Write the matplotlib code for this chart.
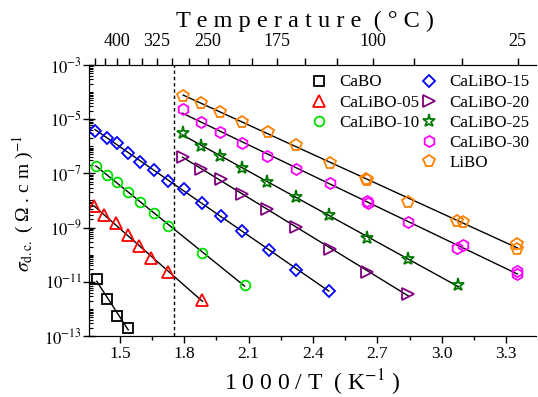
import numpy as np
import matplotlib
matplotlib.use("Agg")
import matplotlib.pyplot as plt
from matplotlib.ticker import FixedLocator, FixedFormatter, LogLocator, NullFormatter, MultipleLocator
from matplotlib.lines import Line2D

plt.rcParams['font.family'] = ['Liberation Serif', 'DejaVu Serif']
plt.rcParams['mathtext.fontset'] = 'stix'

# 1000/T (K^-1) and log10 of sigma_dc (S/cm) for each glass
x_cabo = [1.392, 1.441, 1.488, 1.539]
y_cabo = [-10.90, -11.65, -12.25, -12.69]

x_05 = [1.380, 1.427, 1.481, 1.536, 1.590, 1.647, 1.722, 1.885]
y_05 = [-8.20, -8.55, -8.84, -9.27, -9.68, -10.13, -10.63, -11.67]

x_10 = [1.388, 1.438, 1.488, 1.539, 1.593, 1.660, 1.725, 1.885, 2.081]
y_10 = [-6.72, -7.06, -7.31, -7.68, -8.07, -8.45, -8.93, -9.93, -11.12]

x_15 = [1.384, 1.438, 1.488, 1.539, 1.593, 1.660, 1.725, 1.798, 1.885, 1.970,
        2.067, 2.195, 2.322, 2.473]
y_15 = [-5.44, -5.68, -5.89, -6.24, -6.57, -6.87, -7.28, -7.59, -8.08, -8.57,
        -9.13, -9.83, -10.56, -11.33]

x_20 = [1.792, 1.880, 1.970, 2.071, 2.187, 2.322, 2.477, 2.651, 2.844]
y_20 = [-6.41, -6.84, -7.22, -7.77, -8.31, -8.97, -9.79, -10.63, -11.46]

x_25 = [1.792, 1.880, 1.967, 2.071, 2.187, 2.319, 2.474, 2.652, 2.841, 3.078]
y_25 = [-5.52, -5.98, -6.36, -6.81, -7.31, -7.88, -8.54, -9.39, -10.17, -11.12]

x_30 = [1.792, 1.879, 1.967, 2.069, 2.187, 2.322, 2.477, 2.651, 2.655, 2.843,
        3.073, 3.098, 3.352, 3.352]
y_30 = [-4.62, -5.11, -5.48, -5.87, -6.35, -6.85, -7.35, -8.03, -8.11, -8.78,
        -9.77, -9.66, -10.61, -10.73]

x_libo = [1.795, 1.879, 1.967, 2.071, 2.190, 2.319, 2.477, 2.645, 2.650, 2.841,
          3.071, 3.097, 3.353, 3.353]
y_libo = [-4.13, -4.41, -4.72, -5.11, -5.48, -5.95, -6.60, -7.19, -7.25, -8.04,
          -8.75, -8.81, -9.61, -9.80]

names = ['CaBO', 'CaLiBO-05', 'CaLiBO-10', 'CaLiBO-15',
         'CaLiBO-20', 'CaLiBO-25', 'CaLiBO-30', 'LiBO']
xs = [x_cabo, x_05, x_10, x_15, x_20, x_25, x_30, x_libo]
ys = [y_cabo, y_05, y_10, y_15, y_20, y_25, y_30, y_libo]
colors = ['black', 'red', '#00e000', 'blue', '#800080', '#007a00', '#ff00ff', '#ff8000']
markers = ['s', '^', 'o', 'D', '>', '*', 'h', 'p']
sizes = [6.5, 8, 7, 6.5, 8, 9.5, 8, 8.5]

# top axis: temperature in Celsius
temp_labels = [400, 325, 250, 175, 100, 25]
temp_minor = [450, 425, 375, 350, 300, 275, 225, 200, 150, 125, 75, 50]

fig = plt.figure(figsize=(5.38, 3.97), dpi=100)
ax = fig.add_axes([0.1654, 0.1537, 0.8311, 0.6826])

handles = []
for x, y, c, m, s, n in zip(xs, ys, colors, markers, sizes, names):
    x = np.array(x)
    y = np.array(y)
    # Arrhenius fit
    k, b = np.polyfit(x, y, 1)
    xf = np.array([x.min(), x.max()])
    ax.plot(xf, 10 ** (k * xf + b), color='black', lw=1.0, zorder=2)
    ax.plot(x, 10 ** y, ls='none', marker=m, ms=s, mfc='none', mec=c, mew=1.3, zorder=3)
    handles.append(Line2D([], [], ls='none', marker=m, ms=s, mfc='none', mec=c, mew=1.3, label=n))

ax.axvline(1.75, color='black', lw=1.0, ls=(0, (2.5, 2)), zorder=1)

ax.set_yscale('log')
ax.set_xlim(1.356, 3.44)
ax.set_ylim(1e-13, 1e-3)

ax.xaxis.set_major_locator(FixedLocator([1.5, 1.8, 2.1, 2.4, 2.7, 3.0, 3.3]))
ax.xaxis.set_minor_locator(MultipleLocator(0.15))
ax.xaxis.set_major_formatter(FixedFormatter(['1.5', '1.8', '2.1', '2.4', '2.7', '3.0', '3.3']))

ydec = [-13, -11, -9, -7, -5, -3]
ax.yaxis.set_major_locator(FixedLocator([10.0 ** d for d in ydec]))
ax.yaxis.set_major_formatter(FixedFormatter(['$10^{%d}$' % d for d in ydec]))
ax.yaxis.set_minor_locator(LogLocator(base=10, subs=np.arange(1, 10), numticks=100))
ax.yaxis.set_minor_formatter(NullFormatter())

ax.tick_params(axis='x', which='major', direction='out', length=5, width=1, labelsize=12.5, pad=2)
ax.tick_params(axis='x', which='minor', direction='out', length=3, width=1)
ax.tick_params(axis='y', which='major', direction='inout', length=8, width=1, labelsize=12, pad=1)
ax.tick_params(axis='y', which='minor', direction='in', length=3, width=0.8)
ax.spines['right'].set_visible(False)

ax.set_xlabel('1 0 0 0 / T  ( K$^{-1}$ )', fontsize=17, labelpad=4)
ax.set_ylabel(r'$\sigma_{\rm d.c.}$ ( Ω . c m )$^{-1}$', fontsize=14, labelpad=6)
ax.yaxis.label.set_y(0.49)

top = ax.twiny()
top.set_xlim(ax.get_xlim())
top.xaxis.set_major_locator(FixedLocator([1000.0 / (t + 273.15) for t in temp_labels]))
top.xaxis.set_major_formatter(FixedFormatter([str(t) for t in temp_labels]))
top.xaxis.set_minor_locator(FixedLocator([1000.0 / (t + 273.15) for t in temp_minor]))
top.tick_params(axis='x', which='major', direction='out', length=5, width=1, labelsize=13, pad=6)
top.tick_params(axis='x', which='minor', direction='out', length=5, width=1)
top.spines['right'].set_visible(False)
top.set_xlabel(' '.join('Temperature') + '  ' + ' '.join('(°C)'), fontsize=17.5, labelpad=4)
top.xaxis.label.set_x(0.484)

blank = Line2D([], [], ls='none', label=' ')
leg_handles = handles[:3] + [blank, blank] + handles[3:]
ax.legend(handles=leg_handles, ncol=2, loc='upper left', bbox_to_anchor=(0.4955, 0.965),
          frameon=False, fontsize=12.2, handletextpad=0.7, columnspacing=0.05,
          labelspacing=0.24, borderpad=0, borderaxespad=0, handlelength=1.0)

fig.savefig('out.png', dpi=100)
